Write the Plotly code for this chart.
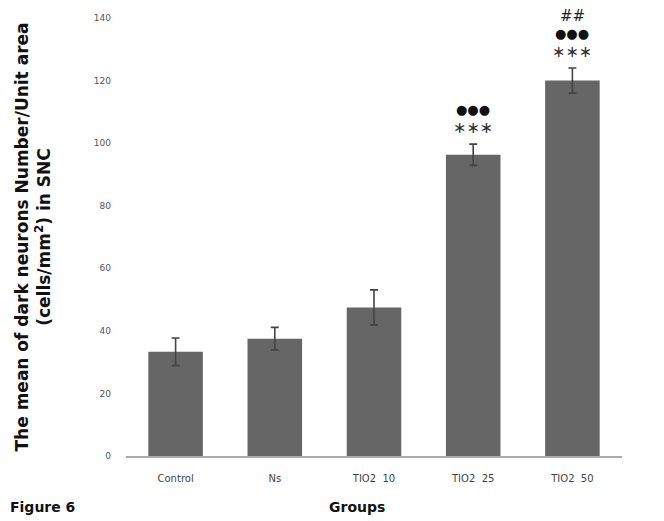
import plotly.graph_objects as go

groups = ["Control", "Ns", "TIO2  10", "TIO2  25", "TIO2  50"]
means = [33.3, 37.5, 47.5, 96.3, 120.0]
errors = [4.4, 3.6, 5.6, 3.4, 4.0]
yticks = [0, 20, 40, 60, 80, 100, 120, 140]
# significance markers (bottom to top) per group
sig_marks = [[], [], [], ["∗∗∗", "●●●"], ["∗∗∗", "●●●", "##"]]

fig = go.Figure()
fig.add_trace(go.Bar(
    x=groups, y=means,
    marker=dict(color="#666666", line=dict(width=0)),
    width=0.55,
    error_y=dict(type="data", array=errors, visible=True, color="#444444", thickness=1.6, width=4),
))

styles = {"∗∗∗": (16, "#333333"), "●●●": (13, "#111111"), "##": (15, "#222222")}
offsets = [17, 35, 52]
for g, m, e, marks in zip(groups, means, errors, sig_marks):
    for i, txt in enumerate(marks):
        size, col = styles[txt]
        fig.add_annotation(
            x=g, y=m + e, xref="x", yref="y",
            text=txt, showarrow=False, borderpad=0,
            yanchor="middle", yshift=offsets[i],
            font=dict(family="DejaVu Sans", size=size, color=col),
        )

fig.add_annotation(x=-0.238, y=-0.116, xref="paper", yref="paper", xanchor="left", yanchor="middle",
                   text="<b>Figure 6</b>", showarrow=False,
                   font=dict(family="DejaVu Sans", size=14, color="#111111"))
fig.add_annotation(x=0.466, y=-0.116, xref="paper", yref="paper", xanchor="center", yanchor="middle",
                   text="<b>Groups</b>", showarrow=False,
                   font=dict(family="DejaVu Sans", size=14, color="#111111"))

fig.update_layout(
    width=656, height=513,
    margin=dict(l=118, r=42, t=10, b=65, autoexpand=False),
    plot_bgcolor="white", paper_bgcolor="white",
    showlegend=False,
    font=dict(family="DejaVu Sans", color="#555555"),
    xaxis=dict(
        range=[-0.5, 4.5], showline=True, linecolor="#aaaaaa", linewidth=2,
        ticks="", showgrid=False, tickfont=dict(size=10, color="#444444"),
        ticklabelstandoff=12,
    ),
    yaxis=dict(
        range=[0, 140], tickvals=yticks, showgrid=False, zeroline=False,
        showline=False, ticks="", ticklabelstandoff=14,
        tickfont=dict(size=9, color="#555555"),
        title=dict(text="<b>The mean of dark neurons Number/Unit area<br>(cells/mm<sup>2</sup>) in SNC</b>",
                   font=dict(size=17, color="#111111"), standoff=38),
    ),
)

fig.write_html("out.html")
